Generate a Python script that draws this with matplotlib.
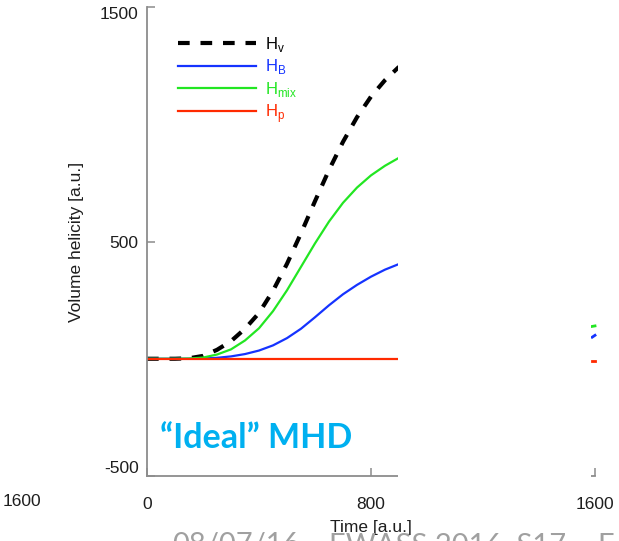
import matplotlib
matplotlib.use("Agg")
import matplotlib.pyplot as plt
from matplotlib.patches import Rectangle

plt.rcParams['font.family'] = ['Liberation Sans', 'DejaVu Sans']
plt.rcParams['mathtext.fontset'] = 'custom'
plt.rcParams['mathtext.rm'] = 'Liberation Sans'
plt.rcParams['axes.unicode_minus'] = False

# helicity budget, ideal MHD run
tiempo = [0, 100, 150, 200, 250, 300, 350, 400, 450, 500, 550, 600, 650, 700, 750, 800, 850, 900]
H_v    = [0, 0, 2, 12, 38, 75, 128, 195, 290, 405, 535, 672, 805, 925, 1030, 1118, 1188, 1245]
H_B    = [0, 0, 0, 1, 4, 10, 20, 35, 57, 88, 128, 177, 228, 275, 315, 350, 380, 404]
H_mix  = [0, 0, 1, 5, 18, 40, 78, 130, 203, 292, 392, 492, 585, 665, 730, 782, 823, 857]
H_p    = [0, 0, 0, 0, 0, 0, 0, 0, 0, 0, 0, 0, 0, 0, 0, 0, 0, 0]

# valores del panel vecino que asoman por la derecha
t_der = [1590, 1600]
H_B_der = [92, 100]
H_mix_der = [138, 140]
H_p_der = [-8, -8]

xticks = [0, 800, 1600]
yticks = [-500, 500, 1500]

c_v = '#000000'
c_B = '#1533ff'
c_mix = '#22e622'
c_p = '#ff2a00'
gris = '#1e1e1e'

fig = plt.figure(figsize=(6.19, 5.41), dpi=100)
ax = fig.add_axes([147/619, 1-476/541, 448/619, 469/541])

ax.plot(tiempo, H_v, color=c_v, lw=3, ls=(0, (2.8, 2.6)), label=r'H$_{\rm v}$')
ax.plot(tiempo, H_B, color=c_B, lw=1.6, label=r'H$_{\rm B}$')
ax.plot(tiempo, H_mix, color=c_mix, lw=1.6, label=r'H$_{\rm mix}$')
ax.plot(tiempo, H_p, color=c_p, lw=1.6, label=r'H$_{\rm p}$')

ax.plot(t_der, H_B_der, color=c_B, lw=2, clip_on=False)
ax.plot(t_der, H_mix_der, color=c_mix, lw=2, clip_on=False)
ax.plot(t_der, H_p_der, color=c_p, lw=2, clip_on=False)

ax.set_xlim(0, 1600)
ax.set_ylim(-500, 1500)
ax.set_xticks(xticks)
ax.set_yticks(yticks)
ax.spines['top'].set_visible(False)
ax.spines['right'].set_visible(False)
for s in ['left', 'bottom']:
    ax.spines[s].set_color('#8c8c8c')
    ax.spines[s].set_linewidth(1.3)
ax.tick_params(axis='both', direction='in', length=6, width=1.1, color='#8c8c8c',
               labelsize=12.5, labelcolor=gris)
ax.tick_params(axis='x', pad=15)
ax.tick_params(axis='y', pad=6)
etiq = ax.get_yticklabels()
etiq[0].set_va('bottom')
etiq[-1].set_va('top')

ax.set_xlabel('Time [a.u.]', fontsize=12.5, color=gris)
ax.set_ylabel('Volume helicity [a.u.]', fontsize=12.5, color=gris)
ax.xaxis.set_label_coords(0.5, -0.094)
ax.yaxis.set_label_coords(-0.14, 0.5)

leg = ax.legend(loc='upper left', bbox_to_anchor=(0.069, 0.94), frameon=False,
                fontsize=12, handlelength=4.7, handletextpad=0.55, labelspacing=0.2,
                borderpad=0, borderaxespad=0, labelcolor='linecolor')

# franja blanca que tapa el resto del panel
fig.add_artist(Rectangle((398/619, 1-487/541), 193/619, 487/541,
                         transform=fig.transFigure, facecolor='white',
                         edgecolor='none', zorder=5))

fig.text(160/619, 1-438/541, '\u201cIdeal\u201d MHD', color='#00b0f0',
         fontsize=24.5, fontweight='bold', family=['Lato', 'DejaVu Sans'], va='center')

fig.text(22/619, 1-502/541, '1600', fontsize=12.5, color=gris, ha='center', va='center')

# pie de diapositiva
fig.text(172/619, 1-553/541, '08/07/16', fontsize=21, color='#a0a0a0',
         family=['Lato', 'DejaVu Sans'], va='baseline', zorder=0)
fig.text(329/619, 1-553/541, 'EWASS 2016, S17 \u2013 E. P', fontsize=21, color='#a0a0a0',
         family=['Lato', 'DejaVu Sans'], va='baseline', zorder=0)

fig.savefig('out.png', dpi=100)
